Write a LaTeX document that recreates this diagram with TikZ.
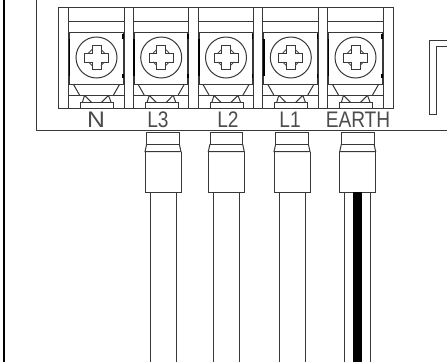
\documentclass[tikz,border=0pt]{standalone}
\usepackage{fontspec}
\setmainfont{Liberation Sans}
\tikzset{
  ln/.style={line width=1pt,draw=black!78},
  thin ln/.style={line width=0.8pt,draw=black!70},
  heavy/.style={line width=1.6pt,draw=black},
  lbl/.style={font=\fontsize{22.5}{22.5}\selectfont,text=black!70,inner sep=0pt,anchor=base}
}
\begin{document}
\begin{tikzpicture}[x=1pt,y=-1pt]
\path[use as bounding box,fill=white] (0,0) rectangle (447,362);
\clip (0,0) rectangle (447,362);
% outer frame
\draw[line width=2pt,black] (3.5,0) -- (3.5,362);
\draw[ln] (36,0) -- (36,130) -- (447,130);
% terminal block
\draw[ln] (58.5,7.5) rectangle (393,108);
\foreach \dx in {68.3,124,133.3,188.7,198,253,262.7,318,327.7,383}{
  \draw[ln] (\dx,7.5) -- (\dx,108);
}
\foreach \cx in {96.5,161.2,226,290.8,355.5}{
  \begin{scope}[shift={(\cx,0)}]
    \draw[ln] (-28,21.5) -- (27.5,21.5);
    \draw[ln] (-28,95) -- (27.5,95);
    % screw housing
    \draw[ln,fill=white] (-27,32) rectangle (26.5,84);
    \draw[heavy] (-27,39) -- (-27,76);
    \draw[heavy] (26.5,34) -- (26.5,39) (26.5,74) -- (26.5,78);
    % screw head
    \draw[ln] (0,57.5) circle (20.5);
    \begin{scope}[shift={(0,57.5)}]
    \draw[ln,line join=miter] (-4.5,-12) -- (4.5,-12) -- (4.5,-4.5) -- (12,-4.5) -- (12,4.5) -- (4.5,4.5) -- (4.5,12) -- (-4.5,12) -- (-4.5,4.5) -- (-12,4.5) -- (-12,-4.5) -- (-4.5,-4.5) -- cycle;
    \draw[thin ln] (4.5,-8) -- (8,-4.5) (-4.5,-8) -- (-8,-4.5) (4.5,8) -- (8,4.5) (-4.5,8) -- (-8,4.5);
    \end{scope}
    % jaws
    \draw[ln] (-23,84.5) -- (-17,95);
    \draw[ln] (23,84.5) -- (17,95);
    \draw[ln] (-12,95.3) -- (-4.7,102.7) (-12,95.3) -- (-14.2,102.7);
    \draw[ln] (12,95.3) -- (4.7,102.7) (12,95.3) -- (14.7,102.7);
    % lug
    \draw[ln,fill=white] (-16,102.7) rectangle (17,108);
  \end{scope}
}
% labels
\node[lbl] (lblN) at (96,127.5) {\scalebox{1.1}[1]{N}};
\node[lbl] (lblLiii) at (158,127.5) {\scalebox{.85}[1]{L3}};
\node[lbl] (lblLii) at (228,127.5) {\scalebox{.85}[1]{L2}};
\node[lbl] (lblLi) at (290,127.5) {\scalebox{.85}[1]{L1}};
\node[lbl] (lblE) at (358,127.5) {\scalebox{.85}[1]{EARTH}};
% ferrules and wires
\foreach \cx in {163,226.3,292,357.7}{
  \begin{scope}[shift={(\cx,0)}]
    \draw[ln] (-16.3,132.3) rectangle (16.3,144);
    \draw[ln] (-16.3,144) -- (-18,151.7) -- (18,151.7) -- (16.3,144);
    \draw[ln] (-18,151.7) -- (-18,192.3) -- (18,192.3) -- (18,151.7);
    \draw[ln] (-13,192.3) -- (-13,362);
    \draw[ln] (13,192.3) -- (13,362);
  \end{scope}
}
\fill[black] (353.3,192.3) rectangle (362.3,362);
% right part
\draw[ln] (447,40) -- (429,40) -- (429,114) -- (436,114) -- (436,46.7) -- (447,46.7);
\end{tikzpicture}
\end{document}
